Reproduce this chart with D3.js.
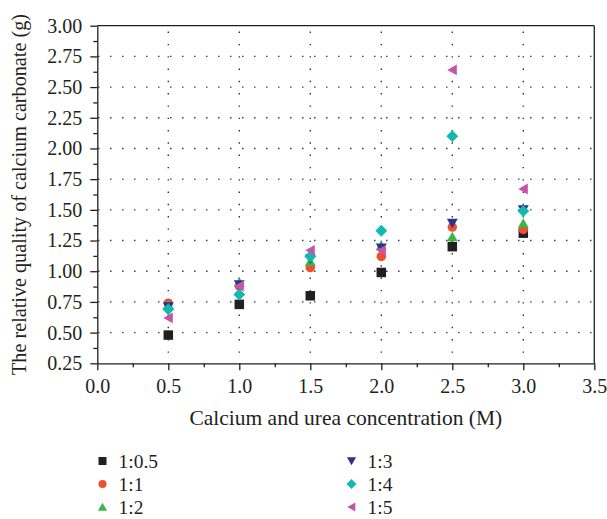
<!DOCTYPE html>
<html>
<head>
<meta charset="utf-8">
<script src="https://cdn.jsdelivr.net/npm/d3@7"></script>
<style>
  body { margin: 0; background: #fff; }
  svg { display: block; }
  text { font-family: "Liberation Serif", "Times New Roman", serif; fill: #231f20; }
</style>
</head>
<body>
<svg id="chart" width="607" height="519"></svg>
<script>
// ---- data ----
const concentrations = [0.5, 1.0, 1.5, 2.0, 2.5, 3.0];
const seriesNames = ["1:0.5", "1:1", "1:2", "1:3", "1:4", "1:5"];
const s_1_05 = [0.48, 0.73, 0.80, 0.99, 1.20, 1.31];
const s_1_1  = [0.74, 0.88, 1.03, 1.12, 1.36, 1.34];
const s_1_2  = [0.73, 0.91, 1.08, 1.21, 1.28, 1.39];
const s_1_3  = [0.71, 0.89, 1.10, 1.19, 1.39, 1.50];
const s_1_4  = [0.69, 0.81, 1.12, 1.33, 2.10, 1.49];
const s_1_5  = [0.62, 0.88, 1.17, 1.17, 2.64, 1.67];
const xTicks = [0.0, 0.5, 1.0, 1.5, 2.0, 2.5, 3.0, 3.5];
const yTicks = [0.25, 0.50, 0.75, 1.00, 1.25, 1.50, 1.75, 2.00, 2.25, 2.50, 2.75, 3.00];

const seriesValues = [s_1_05, s_1_1, s_1_2, s_1_3, s_1_4, s_1_5];
const colors = ["#231f20", "#f04e30", "#39b54a", "#2e3192", "#13b8b0", "#c455a8"];
const symbolTypes = ["square", "circle", "triUp", "triDown", "diamond", "triLeft"];

const svg = d3.select("#chart");
const L = 97.3, R = 594.3, T = 25.7, B = 363.3;
const x = d3.scaleLinear().domain([0, 3.5]).range([L, R]);
const y = d3.scaleLinear().domain([0.25, 3.0]).range([B, T]);
const ink = "#231f20";

// grid (dotted)
const grid = svg.append("g");
grid.selectAll("line.gx").data(xTicks.filter(d => d > 0 && d < 3.5)).enter().append("line")
  .attr("x1", d => x(d)).attr("x2", d => x(d)).attr("y1", B).attr("y2", T)
  .attr("stroke", "#333").attr("stroke-width", 1.4)
  .attr("stroke-dasharray", "1.4 10.9").attr("stroke-dashoffset", -10.5);
grid.selectAll("line.gy").data(yTicks.filter(d => d > 0.25 && d < 3.0)).enter().append("line")
  .attr("x1", L).attr("x2", R).attr("y1", d => y(d)).attr("y2", d => y(d))
  .attr("stroke", "#333").attr("stroke-width", 1.4)
  .attr("stroke-dasharray", "1.4 10.6").attr("stroke-dashoffset", -12.8);

// axes
const fmtX = d3.format(".1f"), fmtY = d3.format(".2f");
const xAxis = svg.append("g").attr("transform", `translate(0,${B})`)
  .call(d3.axisBottom(x).tickValues(xTicks).tickFormat(fmtX).tickSize(7).tickSizeOuter(0).tickPadding(9));
const xMinor = svg.append("g").attr("transform", `translate(0,${B})`)
  .call(d3.axisBottom(x).tickValues(xTicks.slice(0, -1).map(d => d + 0.25)).tickFormat("").tickSize(4).tickSizeOuter(0));
const yAxis = svg.append("g").attr("transform", `translate(${L},0)`)
  .call(d3.axisLeft(y).tickValues(yTicks).tickFormat(fmtY).tickSize(7).tickSizeOuter(0).tickPadding(8));
const yMinor = svg.append("g").attr("transform", `translate(${L},0)`)
  .call(d3.axisLeft(y).tickValues(yTicks.slice(0, -1).map(d => d + 0.125)).tickFormat("").tickSize(4).tickSizeOuter(0));
[xAxis, xMinor, yAxis, yMinor].forEach(g => {
  g.selectAll("path, line").attr("stroke", ink).attr("stroke-width", 1.3);
  g.selectAll("text").style("font-family", '"Liberation Serif", serif').style("font-size", "20px").attr("fill", ink);
});
xMinor.select("path").remove();
yMinor.select("path").remove();
// frame top/right
svg.append("line").attr("x1", L).attr("x2", R).attr("y1", T).attr("y2", T).attr("stroke", ink).attr("stroke-width", 1.3);
svg.append("line").attr("x1", R).attr("x2", R).attr("y1", T).attr("y2", B).attr("stroke", ink).attr("stroke-width", 1.3);

// titles
svg.append("text").attr("x", (L + R) / 2).attr("y", 425).attr("text-anchor", "middle")
  .style("font-size", "21.5px").text("Calcium and urea concentration (M)");
svg.append("text").attr("transform", `translate(26,${(T + B) / 2}) rotate(-90)`).attr("text-anchor", "middle")
  .style("font-size", "20.2px").text("The relative quality of calcium carbonate (g)");

// symbol path generator
function symbolPath(type, s) {
  const h = s / 2;
  switch (type) {
    case "square": return `M${-h},${-h}H${h}V${h}H${-h}Z`;
    case "circle": return `M${-h},0A${h},${h} 0 1,0 ${h},0A${h},${h} 0 1,0 ${-h},0Z`;
    case "triUp": return `M0,${-h * 1.05}L${h * 1.15},${h * 0.95}L${-h * 1.15},${h * 0.95}Z`;
    case "triDown": return `M0,${h * 1.05}L${h * 1.15},${-h * 0.95}L${-h * 1.15},${-h * 0.95}Z`;
    case "diamond": return `M0,${-h * 1.25}L${h * 1.25},0L0,${h * 1.25}L${-h * 1.25},0Z`;
    case "triLeft": return `M${-h * 1.05},0L${h * 0.95},${-h * 1.15}L${h * 0.95},${h * 1.15}Z`;
  }
}

// points
seriesValues.forEach((vals, i) => {
  svg.append("g").selectAll("path").data(vals).enter().append("path")
    .attr("transform", (d, j) => `translate(${x(concentrations[j])},${y(d)})`)
    .attr("d", symbolPath(symbolTypes[i], 9.5))
    .attr("fill", colors[i]);
});

// legend
const legendRows = [461, 484, 507];
seriesNames.forEach((name, i) => {
  const col = Math.floor(i / 3), row = i % 3;
  const mx = col === 0 ? 102.5 : 351.5;
  const g = svg.append("g").attr("transform", `translate(${mx},${legendRows[row]})`);
  g.append("path").attr("d", symbolPath(symbolTypes[i], 8)).attr("fill", colors[i]);
  g.append("text").attr("x", 16).attr("y", 6.5).style("font-size", "19.5px").text(name);
});
</script>
</body>
</html>
